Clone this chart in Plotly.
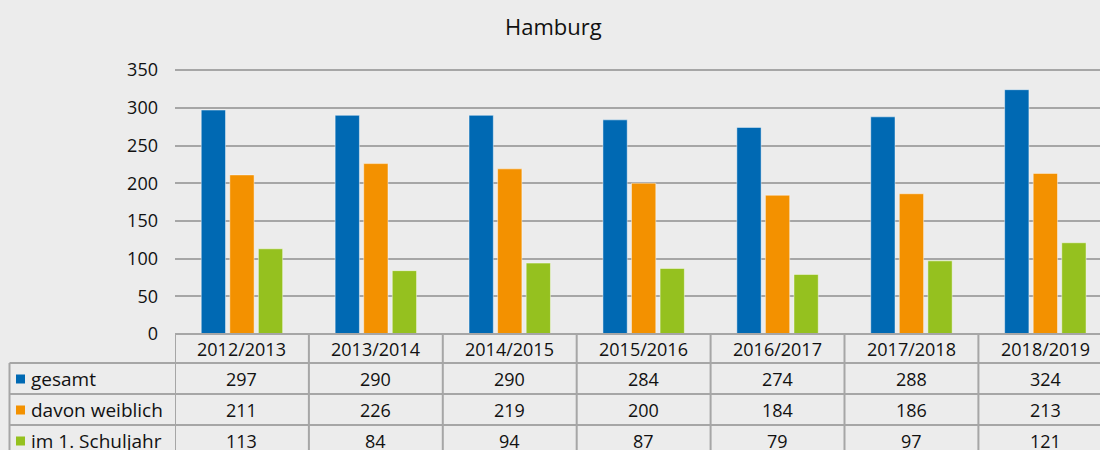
import plotly.graph_objects as go

categories = ["2012/2013", "2013/2014", "2014/2015", "2015/2016", "2016/2017", "2017/2018", "2018/2019"]
series_names = ["gesamt", "davon weiblich", "im 1. Schuljahr"]
gesamt = [297, 290, 290, 284, 274, 288, 324]
weiblich = [211, 226, 219, 200, 184, 186, 213]
schuljahr1 = [113, 84, 94, 87, 79, 97, 121]
series_values = [gesamt, weiblich, schuljahr1]
colors = ["#0069b3", "#f39100", "#95c11f"]
y_ticks = [0, 50, 100, 150, 200, 250, 300, 350]

W, H = 1100, 450
L, R = 175, 0
B_PX = 334          # pixel y of value 0
T = 68
PLOT_H = B_PX - T
PLOT_W = W - L - R
COL_W = 133.9
GRID = "#a6a6a6"
BG = "#ececec"
FONT = "Open Sans"
TXT = "#111111"
FS = 18


def py(p):
    return (B_PX - p) / PLOT_H


def px(p):
    return (p - L) / PLOT_W


fig = go.Figure()
idx = list(range(len(categories)))
for name, vals, col in zip(series_names, series_values, colors):
    fig.add_trace(go.Bar(
        x=idx, y=vals, name=name,
        marker=dict(color=col, line=dict(color="rgba(255,255,255,0.45)", width=1)),
        showlegend=False,
    ))

shapes = []
annotations = []
line = dict(color=GRID, width=2)

# table horizontal lines
shapes.append(dict(type="line", xref="paper", yref="paper", x0=0, x1=1, y0=py(B_PX), y1=py(B_PX), line=line, layer="above"))
row_lines = [363, 394, 425, 456]
for rl in row_lines:
    shapes.append(dict(type="line", xref="paper", yref="paper", x0=px(9.5), x1=1, y0=py(rl), y1=py(rl), line=line, layer="above"))
# vertical lines
for i in range(len(categories) + 1):
    xv = i - 0.5
    shapes.append(dict(type="line", xref="x", yref="paper", x0=xv, x1=xv, y0=py(B_PX), y1=py(460), line=line, layer="above"))
shapes.append(dict(type="line", xref="paper", yref="paper", x0=px(9.5), x1=px(9.5), y0=py(363), y1=py(460), line=line, layer="above"))

# header row
for i, c in enumerate(categories):
    annotations.append(dict(x=i, xref="x", y=py(348.5), yref="paper", text=c, showarrow=False,
                            font=dict(family=FONT, size=FS, color=TXT), xanchor="center", yanchor="middle"))
row_centers = [378.5, 409.5, 440.5]
for r, (name, vals, col) in enumerate(zip(series_names, series_values, colors)):
    yc = row_centers[r]
    shapes.append(dict(type="rect", xref="paper", yref="paper", x0=px(16), x1=px(25),
                       y0=py(yc - 4), y1=py(yc + 5), fillcolor=col, line=dict(width=0), layer="above"))
    annotations.append(dict(x=px(29), xref="paper", y=py(yc), yref="paper", text=name, showarrow=False,
                            font=dict(family=FONT, size=FS + 1, color=TXT), xanchor="left", yanchor="middle"))
    for i, v in enumerate(vals):
        annotations.append(dict(x=i, xref="x", y=py(yc), yref="paper", text=str(v), showarrow=False,
                                font=dict(family=FONT, size=FS, color=TXT), xanchor="center", yanchor="middle"))

y_max = PLOT_H / 0.754  # units per plot height

fig.update_layout(
    width=W, height=H,
    paper_bgcolor=BG, plot_bgcolor=BG,
    margin=dict(l=L, r=R, t=T, b=H - B_PX, pad=0),
    title=dict(text="Hamburg", x=0.503, xanchor="center", y=1 - 27 / H, yanchor="middle",
               font=dict(family=FONT, size=22, color=TXT)),
    barmode="group", bargap=0.36, bargroupgap=0.15,
    xaxis=dict(range=[-0.5, -0.5 + PLOT_W / COL_W], showticklabels=False, showgrid=False,
               zeroline=False, showline=False, ticks=""),
    yaxis=dict(range=[0, y_max], tickvals=y_ticks, showgrid=True, gridcolor=GRID, gridwidth=2,
               zeroline=False, showline=False, ticks="", ticklabelstandoff=16,
               tickfont=dict(family=FONT, size=FS, color=TXT)),
    shapes=shapes, annotations=annotations,
    font=dict(family=FONT),
)

fig.write_html("out.html", config={"displayModeBar": False},
               post_script="document.body.style.margin='0';document.body.style.overflow='hidden';window.dispatchEvent(new Event('resize'));")
